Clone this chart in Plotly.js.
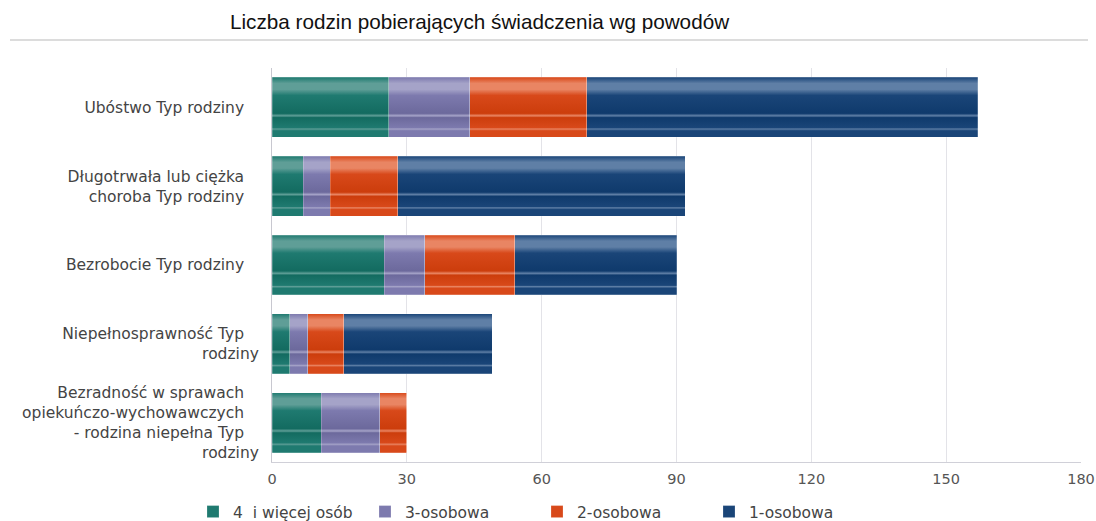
<!DOCTYPE html>
<html>
<head>
<meta charset="utf-8">
<script src="https://cdn.plot.ly/plotly-3.0.1.min.js"></script>
<style>html,body{margin:0;padding:0;background:#fff;}#chart{width:1096px;height:521px;}</style>
</head>
<body>
<div id="chart"></div>
<script>
const pad = "\u00A0\u00A0\u00A0";
const categories = [
  "Ubóstwo Typ rodziny" + pad,
  "Długotrwała lub ciężka" + pad + "<br>choroba Typ rodziny" + pad,
  "Bezrobocie Typ rodziny" + pad,
  "Niepełnosprawność Typ" + pad + "<br>rodziny",
  "Bezradność w sprawach" + pad + "<br>opiekuńczo-wychowawczych" + pad + "<br>- rodzina niepełna Typ" + pad + "<br>rodziny"
];
const seriesNames = ["4  i więcej osób", "3-osobowa", "2-osobowa", "1-osobowa"];
const fourPlus = [26, 7, 25, 4, 11];
const three = [18, 6, 9, 4, 13];
const two = [26, 15, 20, 8, 6];
const one = [87, 64, 36, 33, 0];
const tickVals = [0, 30, 60, 90, 120, 150, 180];

const colors = ["#1f7a70", "#7d7aae", "#d8491a", "#1a4578"];
const lights = ["#5f9e97", "#a5a3c8", "#e98563", "#5f7fa6"];
const darks = ["#136b60", "#6c699c", "#cc3d0c", "#0f3a6c"];
const values = [fourPlus, three, two, one];

const traces = values.map((v, i) => ({
  type: "bar",
  orientation: "h",
  name: seriesNames[i],
  y: categories,
  x: v,
  marker: { color: colors[i], line: { color: "rgba(255,255,255,0.35)", width: 0.6 } },
  hoverinfo: "x+name"
}));

const layout = {
  width: 1096,
  height: 521,
  barmode: "stack",
  bargap: 0.24,
  paper_bgcolor: "#fff",
  plot_bgcolor: "#fff",
  margin: { l: 272, r: 15, t: 68, b: 59 },
  font: { family: "DejaVu Sans, Verdana, sans-serif", size: 13, color: "#444" },
  title: {
    text: "Liczba rodzin pobierających świadczenia wg powodów",
    x: 230 / 1096, xanchor: "left", xref: "container",
    y: 1 - 22 / 521, yanchor: "middle", yref: "container",
    font: { family: "Liberation Sans, Arial, sans-serif", size: 20.7, color: "#111" }
  },
  xaxis: {
    range: [0, 180],
    tickvals: tickVals,
    ticktext: tickVals.map(String),
    showgrid: true,
    gridcolor: "#e3e3e8",
    gridwidth: 1,
    zeroline: false,
    showline: true,
    linecolor: "#d0d0d8",
    ticks: "",
    ticklabelstandoff: 4,
    tickfont: { size: 14.5, color: "#555" },
    fixedrange: true
  },
  yaxis: {
    autorange: "reversed",
    showline: true,
    linecolor: "#c8c8d0",
    ticks: "",
    ticklabelstandoff: 9,
    tickfont: { size: 15.5, color: "#444" },
    fixedrange: true
  },
  legend: {
    orientation: "h",
    x: 193 / 1096, xanchor: "left", xref: "container",
    y: 1 - 512 / 521, yanchor: "middle", yref: "container",
    entrywidth: 127, entrywidthmode: "pixels",
    font: { size: 15.5, color: "#444" },
    traceorder: "normal",
    itemclick: false
  },
  shapes: [{
    type: "line", xref: "paper", yref: "paper",
    x0: (10 - 272) / 809, x1: (1088 - 272) / 809,
    y0: (462 - 40) / 394, y1: (462 - 40) / 394,
    line: { color: "#dcdcdc", width: 2 }
  }],
  showlegend: true
};

function applyGloss(gd) {
  const svg = gd.querySelector("svg.main-svg");
  const NS = "http://www.w3.org/2000/svg";
  let defs = svg.querySelector("defs");
  if (!defs) { defs = document.createElementNS(NS, "defs"); svg.insertBefore(defs, svg.firstChild); }
  colors.forEach((c, i) => {
    const g = document.createElementNS(NS, "linearGradient");
    g.setAttribute("id", "gloss" + i);
    g.setAttribute("x1", "0"); g.setAttribute("y1", "0");
    g.setAttribute("x2", "0"); g.setAttribute("y2", "1");
    const stops = [
      [0, c], [0.1, lights[i]], [0.2, lights[i]], [0.3, c],
      [0.6, darks[i]], [0.64, lights[i]], [0.67, darks[i]],
      [0.84, c], [0.86, lights[i]], [0.89, c], [1, c]
    ];
    stops.forEach(([o, col]) => {
      const s = document.createElementNS(NS, "stop");
      s.setAttribute("offset", o);
      s.setAttribute("stop-color", col);
      g.appendChild(s);
    });
    defs.appendChild(g);
  });
  gd.querySelectorAll(".barlayer .trace.bars").forEach((tr, i) => {
    tr.querySelectorAll(".point path").forEach(p => { p.style.fill = "url(#gloss" + i + ")"; });
  });
}

Plotly.newPlot("chart", traces, layout, { displayModeBar: false, staticPlot: true }).then(applyGloss);
</script>
</body>
</html>
